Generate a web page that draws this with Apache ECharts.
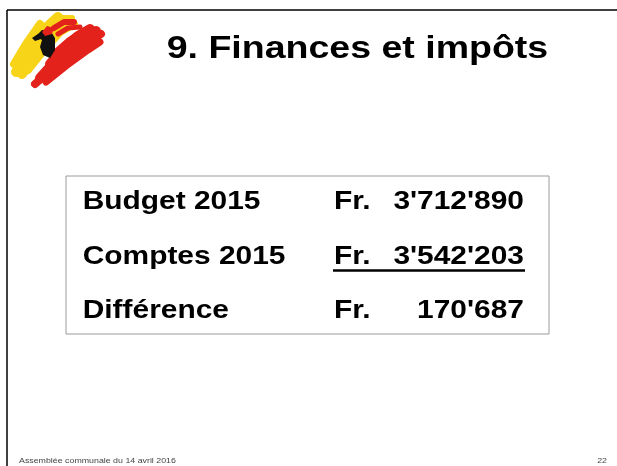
<!DOCTYPE html>
<html>
<head>
<meta charset="utf-8">
<script src="https://cdn.jsdelivr.net/npm/echarts@6/dist/echarts.min.js"></script>
<style>
  html, body { margin: 0; padding: 0; background: #fff; }
  #main { width: 617px; height: 466px; }
</style>
</head>
<body>
<div id="main"></div>
<script>
const title = '9. Finances et impôts';
const rowLabels = ['Budget 2015', 'Comptes 2015', 'Différence'];
const currency = ['Fr.', 'Fr.', 'Fr.'];
const amounts = [3712890, 3542203, 170687];
const footerText = 'Assemblée communale du 14 avril 2016';
const pageNumber = '22';

const FONT = '"Liberation Sans", Arial, sans-serif';

function swissFormat(n) {
  return String(n).replace(/\B(?=(\d{3})+(?!\d))/g, "'");
}

function txt(x, y, text, size, align, weight, color, stretch) {
  return {
    type: 'text',
    x: x,
    y: y,
    scaleX: stretch || 1.15,
    style: {
      text: text,
      x: 0,
      y: 0,
      fill: color || '#000',
      font: (weight || 'bold') + ' ' + size + 'px ' + FONT,
      align: align || 'left',
      verticalAlign: 'middle'
    }
  };
}

function stroke(points, color, width) {
  return {
    type: 'polyline',
    shape: { points: points },
    style: { stroke: color, lineWidth: width, lineCap: 'round', lineJoin: 'round', fill: null }
  };
}

const chart = echarts.init(document.getElementById('main'));

const rowY = [202, 256.5, 311];
const elements = [];

// slide frame (top and left edges)
elements.push({ type: 'line', shape: { x1: 7, y1: 10, x2: 617, y2: 10 }, style: { stroke: '#000', lineWidth: 1.5 } });
elements.push({ type: 'line', shape: { x1: 7, y1: 10, x2: 7, y2: 466 }, style: { stroke: '#000', lineWidth: 1.5 } });

// logo, rough brush strokes
const yellow = '#f7d417';
const red = '#e3231b';
elements.push(stroke([[14, 64], [26, 44], [40, 24]], yellow, 8));
elements.push(stroke([[16, 72], [30, 50], [46, 28], [58, 17]], yellow, 10));
elements.push(stroke([[22, 74], [36, 54], [52, 34], [66, 20]], yellow, 10));
elements.push(stroke([[28, 70], [44, 50], [60, 32], [74, 24]], yellow, 8));
elements.push(stroke([[50, 24], [62, 18], [72, 18]], yellow, 6));
elements.push(stroke([[54, 28], [64, 22], [74, 22]], red, 6));
elements.push(stroke([[58, 34], [68, 28], [80, 27]], red, 5));
elements.push(stroke([[50, 64], [64, 48], [78, 36], [90, 29]], red, 10));
elements.push(stroke([[40, 78], [58, 58], [80, 40], [96, 31]], red, 10));
elements.push(stroke([[35, 84], [56, 66], [80, 48], [101, 34]], red, 8));
elements.push(stroke([[46, 82], [66, 66], [88, 50], [100, 42]], red, 7));
elements.push(stroke([[54, 56], [70, 42], [84, 33]], red, 10));
elements.push({
  type: 'polygon',
  shape: { points: [[36, 36], [42, 30], [50, 30], [55, 38], [55, 50], [50, 58], [43, 55], [40, 47], [42, 40]] },
  style: { fill: '#111' }
});
elements.push({
  type: 'polygon',
  shape: { points: [[32, 38], [38, 34], [41, 39], [35, 41]] },
  style: { fill: '#111' }
});
elements.push({
  type: 'polygon',
  shape: { points: [[42, 32], [47, 26], [54, 28], [52, 34], [45, 36]] },
  style: { fill: red }
});

// title
elements.push(txt(166.7, 49, title, 31, 'left', 'bold', '#000', 1.21));

// table box
elements.push({
  type: 'rect',
  shape: { x: 66, y: 176, width: 483, height: 158 },
  style: { fill: '#fff', stroke: '#9a9a9a', lineWidth: 1 }
});

rowLabels.forEach(function (label, i) {
  elements.push(txt(82.7, rowY[i], label, 26, 'left'));
  elements.push(txt(334, rowY[i], currency[i], 26, 'left'));
  elements.push(txt(524, rowY[i], swissFormat(amounts[i]), 26, 'right'));
});

// underline of the second row
elements.push({ type: 'line', shape: { x1: 333, y1: 270.5, x2: 525, y2: 270.5 }, style: { stroke: '#000', lineWidth: 2.5 } });

// footer
elements.push(txt(19, 461, footerText, 7, 'left', 'normal', '#444', 1.26));
elements.push(txt(607, 461, pageNumber, 7, 'right', 'normal', '#444', 1.26));

chart.setOption({
  backgroundColor: '#fff',
  animation: false,
  graphic: { elements: elements }
});
</script>
</body>
</html>
